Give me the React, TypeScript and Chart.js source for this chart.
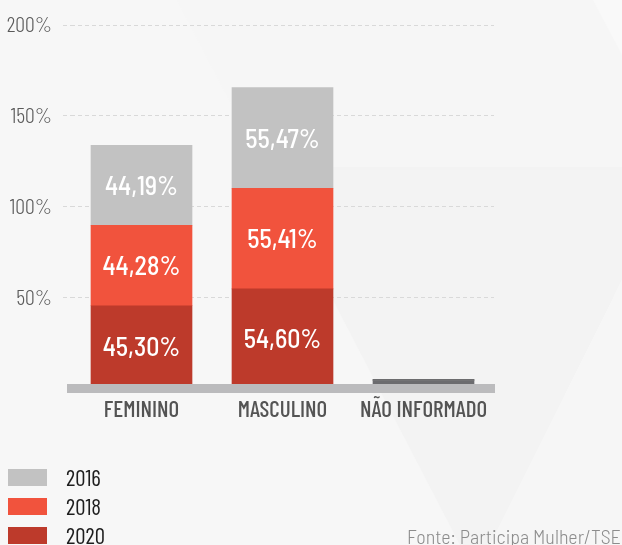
import React, { useEffect, useRef } from 'react';
import { Chart, registerables } from 'chart.js';

Chart.register(...registerables);

// ---- data ----
const categories = ['FEMININO', 'MASCULINO', 'NÃO INFORMADO'];
const years = ['2016', '2018', '2020'];
const values2020 = [45.3, 54.6, 0.1];
const values2018 = [44.28, 55.41, 0.31];
const values2016 = [44.19, 55.47, 0.34];
const yTickValues = [0, 50, 100, 150, 200];
const sourceText = 'Fonte: Participa Mulher/TSE';

// ---- styles ----
const SEMI = "'Barlow Semi Condensed', 'Barlow Condensed', 'Roboto Condensed', sans-serif";
const COND = "'Barlow Condensed', 'Barlow Semi Condensed', 'Roboto Condensed', sans-serif";
const COL2016 = '#c2c2c2';
const COL2018 = '#f1533d';
const COL2020 = '#bd3a2b';
const COL_NI = '#6c6c6f';
const yearColors: Record<string, string> = { '2016': COL2016, '2018': COL2018, '2020': COL2020 };

const fmt = (v: number) => v.toFixed(2).replace('.', ',') + '%';

const backgroundPlugin = {
  id: 'bgShapes',
  beforeDraw(chart: any) {
    const { ctx, width, height } = chart;
    ctx.save();
    ctx.fillStyle = '#f7f7f7';
    ctx.fillRect(0, 0, width, height);
    const poly = (pts: number[][], color: string) => {
      ctx.beginPath();
      ctx.moveTo(pts[0][0], pts[0][1]);
      for (let i = 1; i < pts.length; i++) ctx.lineTo(pts[i][0], pts[i][1]);
      ctx.closePath();
      ctx.fillStyle = color;
      ctx.fill();
    };
    poly([[177, 0], [622, 0], [622, 167], [264, 167]], '#f6f6f6');
    poly([[264, 167], [622, 167], [622, 280], [490, 545], [460, 545]], '#f3f3f3');
    poly([[622, 280], [622, 545], [490, 545]], '#f6f6f6');
    poly([[593, 0], [622, 0], [622, 55]], '#f9f9f9');
    ctx.restore();
  },
};

const valueLabelPlugin = {
  id: 'valueLabels',
  afterDatasetsDraw(chart: any) {
    const { ctx } = chart;
    ctx.save();
    ctx.font = `500 26px ${SEMI}`;
    ctx.fillStyle = '#ffffff';
    ctx.textAlign = 'center';
    ctx.textBaseline = 'middle';
    chart.data.datasets.forEach((ds: any, di: number) => {
      const meta = chart.getDatasetMeta(di);
      meta.data.forEach((el: any, i: number) => {
        const v = ds.data[i];
        if (v < 5) return;
        const cy = (el.y + el.base) / 2;
        ctx.fillText(fmt(v), el.x, cy + 1);
      });
    });
    ctx.restore();
  },
};

export default function App() {
  const canvasRef = useRef<HTMLCanvasElement | null>(null);

  useEffect(() => {
    if (!canvasRef.current) return;
    const mk = (label: string, data: number[], color: string, minLen: number) => ({
      label,
      data,
      backgroundColor: data.map((_, i) => (i === 2 ? COL_NI : color)),
      borderWidth: 0,
      barThickness: 101,
      minBarLength: minLen,
      stack: 's',
    });
    let chart: Chart | null = null;
    const build = () => {
      if (!canvasRef.current) return;
      chart = new Chart(canvasRef.current, {
        type: 'bar',
        data: {
          labels: categories,
          datasets: [
            mk('2020', values2020, COL2020, 7.5),
            mk('2018', values2018, COL2018, 0),
            mk('2016', values2016, COL2016, 0),
          ],
        },
        options: {
          animation: false,
          responsive: false,
          devicePixelRatio: 1,
          layout: { padding: { top: 25, left: 0, right: 128, bottom: 117 } },
          plugins: {
            legend: { display: false },
            tooltip: { enabled: false },
          },
          scales: {
            x: {
              stacked: true,
              grid: { display: false, drawTicks: false },
              border: { display: true, color: '#bbbbbd', width: 9, z: 1 },
              ticks: {
                color: '#545454',
                font: { family: COND, size: 23, weight: '500' },
                padding: 8,
                maxRotation: 0,
                autoSkip: false,
              },
              afterFit: (s: any) => {
                s.height = 40;
              },
            },
            y: {
              stacked: true,
              min: 0,
              max: 200,
              afterFit: (s: any) => {
                s.width = 71;
              },
              afterBuildTicks: (s: any) => {
                s.ticks = yTickValues.map((v) => ({ value: v }));
              },
              border: { display: false, dash: [4, 3] },
              grid: {
                color: (c: any) => (c.tick && c.tick.value === 0 ? 'rgba(0,0,0,0)' : '#d9d9d9'),
                lineWidth: 1,
                drawTicks: true,
                tickLength: 8,
                tickBorderDash: [4, 3],
              },
              ticks: {
                color: '#5a5a5a',
                font: { family: COND, size: 22, weight: '300' },
                padding: 11,
                callback: (v: any) => (Number(v) === 0 ? '' : v + '%'),
              },
            },
          },
        },
        plugins: [backgroundPlugin, valueLabelPlugin],
      });
    };
    const fontsReady = (document as any).fonts
      ? Promise.all([
          (document as any).fonts.load(`500 26px 'Barlow Semi Condensed'`),
          (document as any).fonts.load(`500 23px 'Barlow Condensed'`),
          (document as any).fonts.load(`300 22px 'Barlow Condensed'`),
        ]).catch(() => null)
      : Promise.resolve(null);
    let cancelled = false;
    build();
    fontsReady.then(() => {
      if (cancelled) return;
      if (chart) chart.destroy();
      build();
    });
    return () => {
      cancelled = true;
      if (chart) chart.destroy();
    };
  }, []);

  const legendRows = years.map((y, i) => (
    <div
      key={y}
      style={{
        position: 'absolute',
        left: 8,
        top: 469 + i * 29,
        height: 17,
        display: 'flex',
        alignItems: 'center',
      }}
    >
      <div style={{ width: 39, height: 17, background: yearColors[y] }} />
      <div
        style={{
          marginLeft: 19,
          fontFamily: COND,
          fontSize: 23,
          lineHeight: '17px',
          color: '#1e1e1e',
        }}
      >
        {y}
      </div>
    </div>
  ));

  return (
    <div style={{ position: 'absolute', left: 0, top: 0, width: 622, height: 545, overflow: 'hidden' }}>
      <canvas ref={canvasRef} width={622} height={545} style={{ display: 'block', width: 622, height: 545 }} />
      {legendRows}
      <div
        style={{
          position: 'absolute',
          right: 1,
          top: 526,
          fontFamily: SEMI,
          fontWeight: 300,
          fontSize: 20,
          lineHeight: '20px',
          color: '#8c8c8c',
          whiteSpace: 'nowrap',
        }}
      >
        {sourceText}
      </div>
    </div>
  );
}
